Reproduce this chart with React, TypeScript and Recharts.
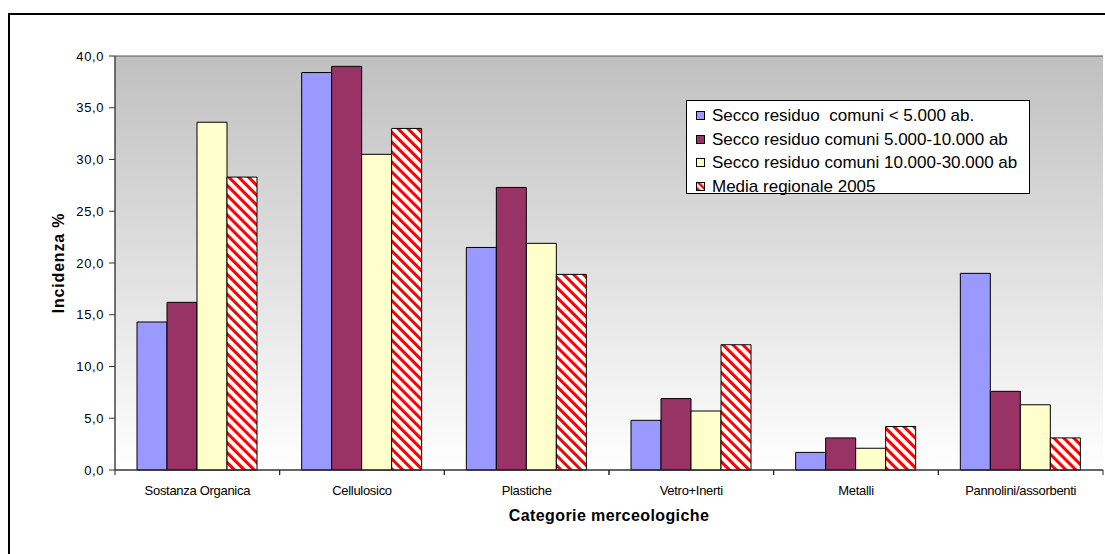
import React from "react";
import {
  BarChart,
  Bar,
  XAxis,
  YAxis,
  CartesianGrid,
} from "recharts";

const categories = [
  "Sostanza Organica",
  "Cellulosico",
  "Plastiche",
  "Vetro+Inerti",
  "Metalli",
  "Pannolini/assorbenti",
];

const under5k = [14.3, 38.4, 21.5, 4.8, 1.7, 19.0];
const from5to10k = [16.2, 39.0, 27.3, 6.9, 3.1, 7.6];
const from10to30k = [33.6, 30.5, 21.9, 5.7, 2.1, 6.3];
const media2005 = [28.3, 33.0, 18.9, 12.1, 4.2, 3.1];

const yTicks = [0, 5, 10, 15, 20, 25, 30, 35, 40];

const seriesNames = [
  "Secco residuo  comuni < 5.000 ab.",
  "Secco residuo comuni 5.000-10.000 ab",
  "Secco residuo comuni 10.000-30.000 ab",
  "Media regionale 2005",
];

const data = categories.map((name, i) => ({
  name,
  a: under5k[i],
  b: from5to10k[i],
  c: from10to30k[i],
  d: media2005[i],
}));

const W = 1105;
const H = 554;
const xAxisH = 84;
const margin = { top: 56, right: 2, bottom: 0, left: 0 };
const yAxisW = 115;
const band = (W - margin.left - margin.right - yAxisW) / categories.length;
const font = "Arial, 'Liberation Sans', sans-serif";

const fmt = (v: number) => v.toFixed(1).replace(".", ",");

function CategoryTick(props: any) {
  const { x, y, payload } = props;
  return (
    <g>
      <line x1={x - band / 2} y1={y} x2={x - band / 2} y2={y + 5} stroke="#222" />
      <line x1={x + band / 2} y1={y} x2={x + band / 2} y2={y + 5} stroke="#222" />
      <text x={x} y={y + 25} textAnchor="middle" fontSize={13} letterSpacing={-0.3} fill="#000" fontFamily={font}>
        {payload.value}
      </text>
    </g>
  );
}

const swatches = ["#9999FF", "#993366", "#FFFFCC", "url(#lg3)"];

function LegendBox() {
  return (
    <div
      style={{
        position: "absolute",
        left: 686,
        top: 100,
        border: "1px solid #000",
        background: "#fff",
        width: 342,
        height: 89,
        fontFamily: font,
        fontSize: 17,
        color: "#000",
        paddingTop: 3,
      }}
    >
      {seriesNames.map((n, i) => (
        <div key={n} style={{ display: "flex", alignItems: "center", height: 23.7, paddingLeft: 9 }}>
          <svg width={10} height={10} style={{ marginRight: 6 }}>
            <defs>
              <pattern id={"lg" + i} width="5" height="5" patternUnits="userSpaceOnUse" patternTransform="rotate(-45)">
                <rect width="5" height="5" fill="#fff" />
                <rect width="2.5" height="5" fill="#ff0000" />
              </pattern>
            </defs>
            <rect x={0.5} y={0.5} width={8} height={8} fill={swatches[i]} stroke="#000" />
          </svg>
          <span style={{ whiteSpace: "pre" }}>{n}</span>
        </div>
      ))}
    </div>
  );
}

export default function App() {
  return (
    <div style={{ position: "fixed", left: 0, top: 0, width: W, height: H, overflow: "hidden", background: "#fff" }}>
      <div
        style={{
          position: "absolute",
          left: 8,
          top: 13,
          width: W,
          height: H,
          border: "2px solid #000",
        }}
      />
      <div style={{ position: "absolute", left: 0, top: 0 }}>
        <BarChart width={W} height={H} data={data} margin={margin} barGap={0} barCategoryGap={22}>
          <defs>
            <linearGradient id="bg" x1="0" y1="0" x2="0" y2="1">
              <stop offset="0%" stopColor="#c0c0c0" />
              <stop offset="100%" stopColor="#ffffff" />
            </linearGradient>
            <pattern id="stripes" width="7" height="7" patternUnits="userSpaceOnUse" patternTransform="rotate(-45)">
              <rect width="7" height="7" fill="#ffffff" />
              <rect width="3" height="7" fill="#ff0000" />
            </pattern>
          </defs>
          <CartesianGrid vertical={false} fill="url(#bg)" stroke="#555" strokeOpacity={1} />
          <XAxis
            dataKey="name"
            height={xAxisH}
            tick={<CategoryTick />}
            tickLine={false}
            tickSize={0}
            tickMargin={0}
            axisLine={{ stroke: "#222" }}
            interval={0}
            label={{
              value: "Categorie merceologiche",
              position: "insideBottom",
              offset: 33,
              style: { fontWeight: "bold", fontSize: 16, letterSpacing: 0.4, fontFamily: font, fill: "#000" },
            }}
          />
          <YAxis
            yAxisId="left"
            width={yAxisW}
            domain={[0, 40]}
            ticks={yTicks}
            tickFormatter={fmt}
            tick={{ fontSize: 13, letterSpacing: 0.6, fill: "#000", fontFamily: font }}
            tickSize={6}
            tickMargin={5}
            tickLine={{ stroke: "#333" }}
            axisLine={{ stroke: "#444", strokeWidth: 1.5 }}
            label={{
              value: "Incidenza %",
              angle: -90,
              position: "insideLeft",
              offset: 58,
              style: { fontWeight: "bold", fontSize: 16, letterSpacing: 0.8, fontFamily: font, fill: "#000", textAnchor: "middle" },
            }}
          />
          <YAxis
            yAxisId="right"
            orientation="right"
            width={0}
            domain={[0, 40]}
            tick={false}
            tickLine={false}
            axisLine={{ stroke: "#888", strokeWidth: 2 }}
          />
          <Bar yAxisId="left" dataKey="a" name={seriesNames[0]} fill="#9999FF" stroke="#000" strokeWidth={1} isAnimationActive={false} />
          <Bar yAxisId="left" dataKey="b" name={seriesNames[1]} fill="#993366" stroke="#000" strokeWidth={1} isAnimationActive={false} />
          <Bar yAxisId="left" dataKey="c" name={seriesNames[2]} fill="#FFFFCC" stroke="#000" strokeWidth={1} isAnimationActive={false} />
          <Bar yAxisId="left" dataKey="d" name={seriesNames[3]} fill="url(#stripes)" stroke="#000" strokeWidth={1} isAnimationActive={false} />
        </BarChart>
      </div>
      <LegendBox />
    </div>
  );
}
